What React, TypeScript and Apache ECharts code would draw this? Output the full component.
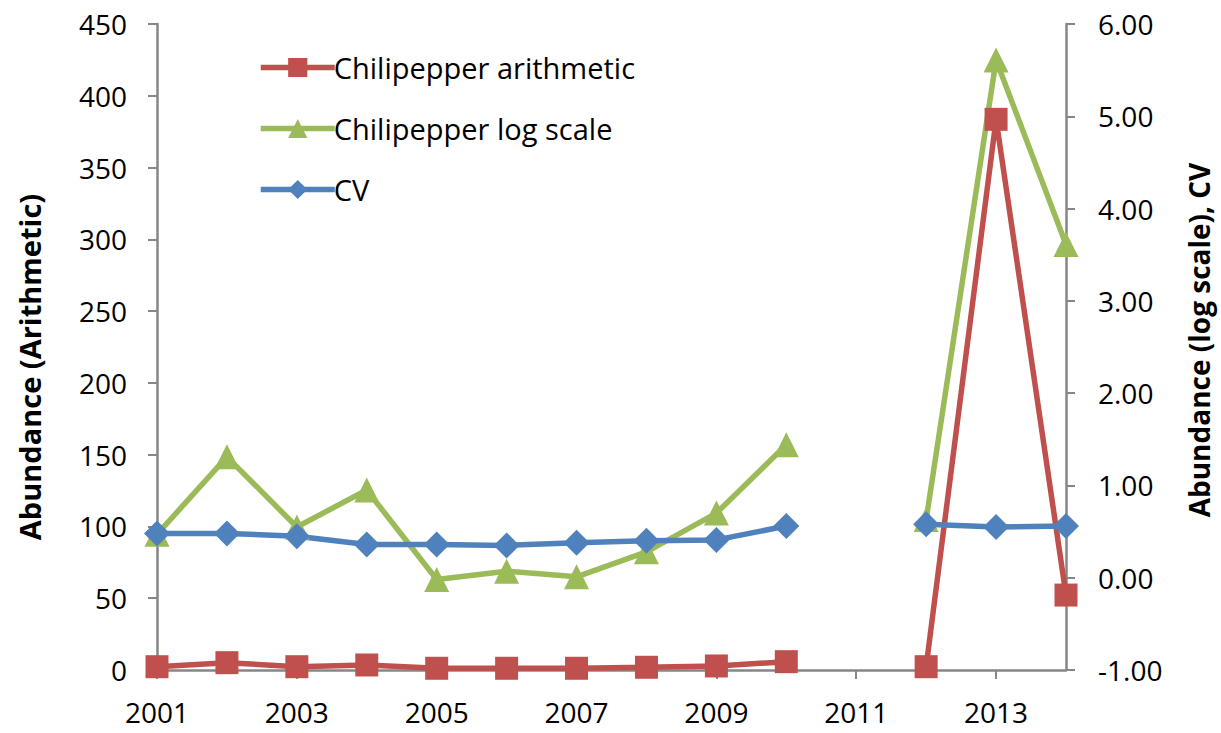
import React, { useEffect, useRef } from "react";
import * as echarts from "echarts";

const years = ["2001","2002","2003","2004","2005","2006","2007","2008","2009","2010","2011","2012","2013","2014"];
const arithmetic = [2.3, 5.1, 2.3, 3.5, 1.2, 1.2, 1.2, 1.9, 2.8, 5.8, null, 2.3, 383.6, 52.2];
const logScale = [0.47, 1.31, 0.55, 0.95, -0.02, 0.07, 0.01, 0.28, 0.7, 1.44, null, 0.63, 5.61, 3.61];
const cv = [0.48, 0.48, 0.45, 0.36, 0.36, 0.35, 0.38, 0.4, 0.41, 0.56, null, 0.58, 0.55, 0.56];
const leftTitle = "Abundance (Arithmetic)";
const rightTitle = "Abundance (log scale), CV";

const FONT = "Open Sans";
const AXIS = "#868686";

export default function App() {
  const ref = useRef<HTMLDivElement>(null);
  useEffect(() => {
    const chart = echarts.init(ref.current!, null, { renderer: "svg" });
    const titleStyle = { fontFamily: FONT, fontSize: 28, fontWeight: "bold", fill: "#000", align: "center", verticalAlign: "middle" };
    chart.setOption({
      animation: false,
      backgroundColor: "#ffffff",
      textStyle: { fontFamily: FONT },
      grid: { left: 157, right: 155, top: 24, bottom: 63, containLabel: false },
      graphic: [
        { type: "text", x: 29, y: 367, rotation: Math.PI / 2, style: { ...titleStyle, fontSize: 29, text: leftTitle } },
        { type: "text", x: 1199, y: 340, rotation: Math.PI / 2, style: { ...titleStyle, text: rightTitle } },
      ],
      legend: {
        orient: "vertical",
        left: 253,
        top: 48,
        itemWidth: 74,
        itemHeight: 24,
        itemGap: 32,
        lineStyle: { width: 5.5 },
        textStyle: { fontFamily: FONT, fontSize: 29, color: "#000", padding: [0, 0, 0, -6] },
        data: ["Chilipepper arithmetic", "Chilipepper log scale", "CV"],
      },
      xAxis: {
        type: "category",
        data: years,
        boundaryGap: false,
        axisLine: { lineStyle: { color: AXIS, width: 2.5 } },
        axisTick: { interval: 1, length: 9, lineStyle: { color: AXIS, width: 2 } },
        axisLabel: { interval: 1, fontSize: 28, color: "#000", margin: 28, fontFamily: FONT },
        splitLine: { show: false },
      },
      yAxis: [
        {
          type: "value",
          min: 0,
          max: 450,
          interval: 50,
          axisLine: { show: true, lineStyle: { color: AXIS, width: 2.5 } },
          axisTick: { show: true, length: 9, lineStyle: { color: AXIS, width: 2 } },
          axisLabel: { fontSize: 28, color: "#000", margin: 30, fontFamily: FONT },
          splitLine: { show: false },
        },
        {
          type: "value",
          min: -1,
          max: 6,
          interval: 1,
          position: "right",
          axisLine: { show: true, lineStyle: { color: AXIS, width: 2.5 } },
          axisTick: { show: true, length: 9, lineStyle: { color: AXIS, width: 2 } },
          axisLabel: {
            fontSize: 28,
            color: "#000",
            margin: 32,
            fontFamily: FONT,
            formatter: (v: number) => v.toFixed(2),
          },
          splitLine: { show: false },
        },
      ],
      series: [
        {
          name: "Chilipepper arithmetic",
          type: "line",
          yAxisIndex: 0,
          data: arithmetic,
          connectNulls: false,
          symbol: "rect",
          symbolSize: 23,
          lineStyle: { color: "#C0504D", width: 5.5 },
          itemStyle: { color: "#C0504D" },
        },
        {
          name: "Chilipepper log scale",
          type: "line",
          yAxisIndex: 1,
          data: logScale,
          connectNulls: false,
          symbol: "triangle",
          symbolSize: 25,
          lineStyle: { color: "#9BBB59", width: 5.5 },
          itemStyle: { color: "#9BBB59" },
        },
        {
          name: "CV",
          type: "line",
          yAxisIndex: 1,
          data: cv,
          connectNulls: false,
          symbol: "diamond",
          symbolSize: 26,
          lineStyle: { color: "#4F81BD", width: 5.5 },
          itemStyle: { color: "#4F81BD" },
        },
      ],
    });
    return () => chart.dispose();
  }, []);
  return <div ref={ref} style={{ width: "100vw", height: "100vh", position: "fixed", left: 0, top: 0 }} />;
}
